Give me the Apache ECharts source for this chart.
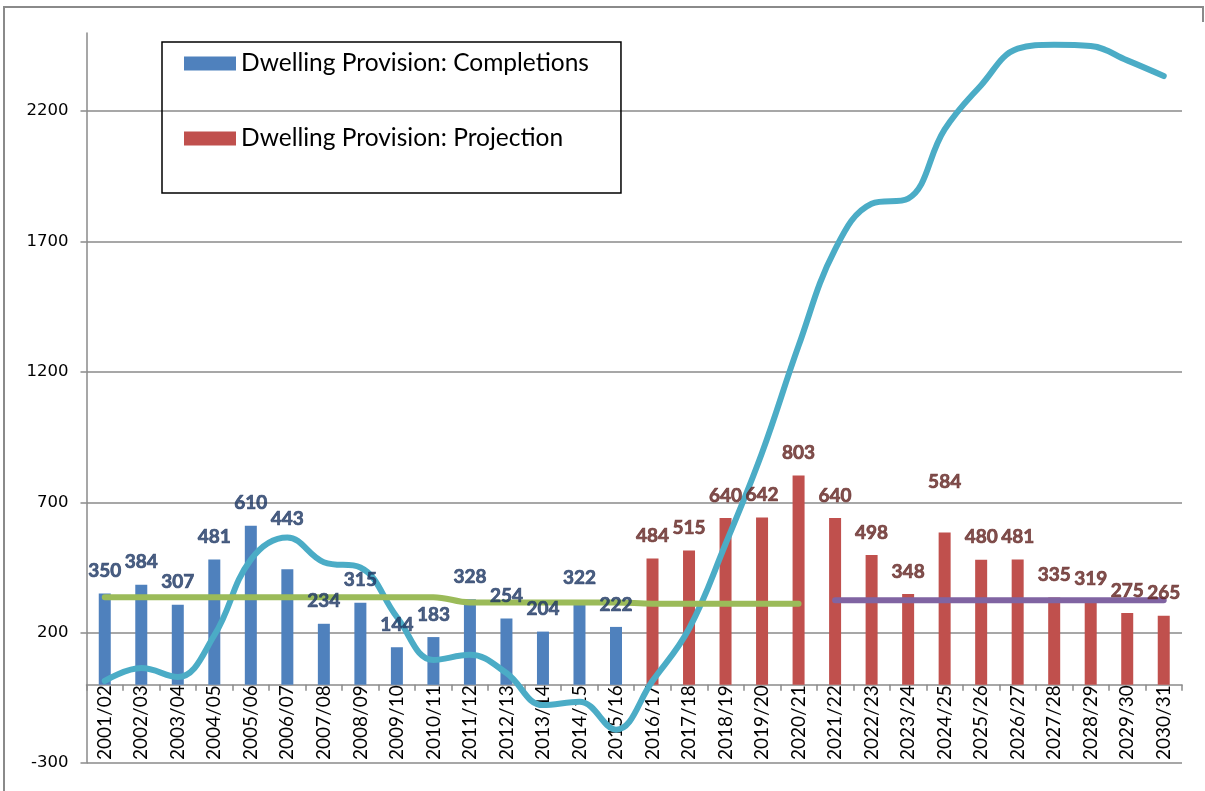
<!DOCTYPE html>
<html>
<head>
<meta charset="utf-8">
<script src="https://cdn.jsdelivr.net/npm/echarts@6/dist/echarts.min.js"></script>
<style>
  html, body { margin: 0; padding: 0; background: #fff; }
  #myEchart { width: 1205px; height: 791px; }
</style>
</head>
<body>
<div id="myEchart"></div>
<script>
  // categories
  var years = ['2001/02','2002/03','2003/04','2004/05','2005/06','2006/07','2007/08','2008/09','2009/10','2010/11',
               '2011/12','2012/13','2013/14','2014/15','2015/16','2016/17','2017/18','2018/19','2019/20','2020/21',
               '2021/22','2022/23','2023/24','2024/25','2025/26','2026/27','2027/28','2028/29','2029/30','2030/31'];
  // bars
  var completions = [350, 384, 307, 481, 610, 443, 234, 315, 144, 183, 328, 254, 204, 322, 222];
  var projection = [484, 515, 640, 642, 803, 640, 498, 348, 584, 480, 481, 335, 319, 275, 265];
  // lines
  var trajectory = [15, 64, 30, 190, 480, 565, 470, 450, 260, 95, 115, 45, -78, -65, -172,
                    15, 215, 540, 890, 1300, 1670, 1845, 1865, 2130, 2300, 2440, 2455, 2450, 2395, 2335];
  var pastAverage = [336, 336, 336, 336, 336, 336, 336, 336, 336, 336, 316, 316, 316, 316, 316, 311, 311, 311, 311, 311];
  var futureAverage = [324, 324, 324, 324, 324, 324, 324, 324, 324, 324];
  // y axis ticks
  var yMin = -300, yMax = 2500, yStep = 500;

  var nameDone = 'Dwelling Provision: Completions';
  var nameProj = 'Dwelling Provision: Projection';
  var raised = ['2006/07', '2024/25']; // labels Excel pushed up off the line

  // pad a short list out to the full category list with '-'
  function pad(arr, start) {
    var out = [];
    for (var i = 0; i < years.length; i++) {
      var k = i - start;
      out.push(k >= 0 && k < arr.length ? arr[k] : '-');
    }
    return out;
  }
  function labelData(arr, start) {
    return pad(arr, start).map(function (v, i) {
      if (v !== '-' && raised.indexOf(years[i]) >= 0) {
        return { value: v, label: { distance: 41 } };
      }
      return v;
    });
  }

  var gray = '#8a8a8a';
  var myEchart = echarts.init(document.getElementById('myEchart'));

  var option = {
    animation: false,
    grid: { left: 86.5, right: 23, top: 33, bottom: 28, containLabel: false, outerBoundsMode: 'none' },
    legend: {
      data: [nameDone, nameProj],
      orient: 'vertical',
      left: 162, top: 42,
      padding: [9, 32, 42, 22],
      itemGap: 50,
      itemWidth: 52, itemHeight: 14,
      icon: 'rect',
      borderColor: '#000', borderWidth: 1.5,
      textStyle: { fontFamily: 'Lato', fontSize: 24.5, color: '#000' }
    },
    xAxis: {
      type: 'category',
      data: years,
      axisLine: { onZero: true, lineStyle: { color: gray, width: 1.5 } },
      axisTick: { show: true, length: 6, lineStyle: { color: gray, width: 1.5 } },
      axisLabel: { rotate: 90, interval: 0, inside: true, margin: 3, fontFamily: 'Lato', fontSize: 19, color: '#000' },
      splitLine: { show: false }
    },
    yAxis: {
      type: 'value',
      min: yMin, max: yMax, interval: yStep,
      axisLine: { show: true, lineStyle: { color: gray, width: 1.5 } },
      axisTick: { show: true, length: 6, lineStyle: { color: gray, width: 1.5 } },
      axisLabel: { showMaxLabel: false, margin: 18, fontFamily: 'DejaVu Sans', fontSize: 16.5, color: '#000',
                   formatter: function (v) { return String(v); } },
      splitLine: { show: true, showMaxLine: false, lineStyle: { color: gray, width: 1.5 } }
    },
    graphic: [{
      type: 'polyline',
      shape: { points: [[4, 800], [4, 7], [1203, 7], [1203, 22]] },
      style: { stroke: '#8a8a8a', lineWidth: 2, fill: null }
    }],
    series: [
      {
        name: nameDone, type: 'bar', data: pad(completions, 0),
        barWidth: 12, barGap: '-100%', z: 2,
        itemStyle: { color: '#4F81BD' }
      },
      {
        name: nameProj, type: 'bar', data: pad(projection, 15),
        barWidth: 12, barGap: '-100%', z: 2,
        itemStyle: { color: '#C0504D' }
      },
      {
        name: 'Trajectory', type: 'line', data: trajectory, smooth: 0.4,
        showSymbol: false, z: 3,
        lineStyle: { color: '#4BACC6', width: 6, cap: 'round' }
      },
      {
        name: 'Average completions', type: 'line', data: pad(pastAverage, 0), smooth: 0.4,
        showSymbol: false, z: 3,
        lineStyle: { color: '#9BBB59', width: 6, cap: 'round' }
      },
      {
        name: 'Average projection', type: 'line', data: pad(futureAverage, 20),
        showSymbol: false, z: 3,
        lineStyle: { color: '#8064A2', width: 6, cap: 'round' }
      },
      // value labels sit above the lines, as in the source chart
      {
        name: 'labels completions', type: 'scatter', data: labelData(completions, 0),
        symbolSize: 0, silent: true, z: 5,
        label: { show: true, position: 'top', distance: 13, formatter: '{c}',
                 fontFamily: 'Lato', fontWeight: 'bold', fontSize: 19, color: '#1F3864',
                 textBorderColor: '#1F3864', textBorderWidth: 0.7 }
      },
      {
        name: 'labels projection', type: 'scatter', data: labelData(projection, 15),
        symbolSize: 0, silent: true, z: 5,
        label: { show: true, position: 'top', distance: 13, formatter: '{c}',
                 fontFamily: 'Lato', fontWeight: 'bold', fontSize: 19, color: '#632523',
                 textBorderColor: '#632523', textBorderWidth: 0.7 }
      }
    ]
  };
  myEchart.setOption(option);
</script>
</body>
</html>
